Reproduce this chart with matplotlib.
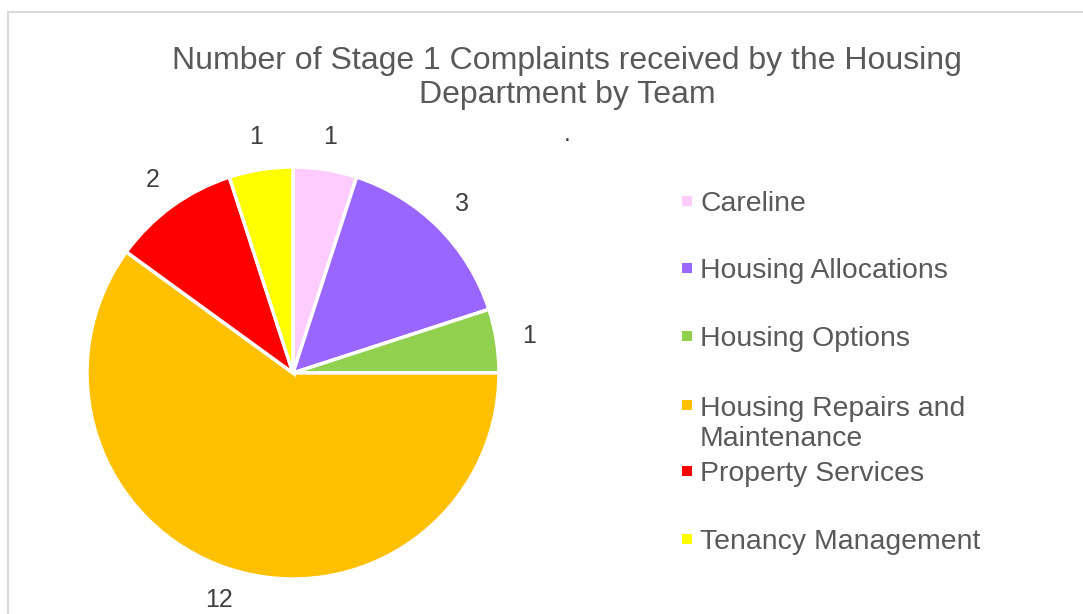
import matplotlib
matplotlib.use("Agg")
import matplotlib.pyplot as plt
from matplotlib.patches import Rectangle

plt.rcParams['font.family'] = ['Liberation Sans', 'DejaVu Sans']

categories = ["Careline", "Housing Allocations", "Housing Options",
              "Housing Repairs and\nMaintenance", "Property Services", "Tenancy Management"]
values = [1, 3, 1, 12, 2, 1]
colors = ["#FFCCFF", "#9966FF", "#92D050", "#FFC000", "#FF0000", "#FFFF00"]
title = "Number of Stage 1 Complaints received by the Housing\nDepartment by Team"

W, H = 1083, 614
fig = plt.figure(figsize=(W / 100, H / 100), dpi=100)
fig.patch.set_facecolor("white")

# chart border
fig.patches.append(Rectangle((8 / W, -0.05), 1.2, (H - 12) / H + 0.05, transform=fig.transFigure,
                             fill=False, edgecolor="#D9D9D9", linewidth=1.5))

cx, cy, r = 293, H - 373, 206
ax = fig.add_axes([(cx - r) / W, (cy - r) / H, 2 * r / W, 2 * r / H])
wedges, texts = ax.pie(values, colors=colors, startangle=90, counterclock=False,
                       labels=[str(v) for v in values], labeldistance=1.16,
                       wedgeprops=dict(edgecolor="white", linewidth=2.5),
                       textprops=dict(fontsize=18, color="#404040"))
for t in texts:
    t.set_ha("center")
    t.set_va("center")
    t.set_clip_on(False)
ax.set_xlim(-1, 1)
ax.set_ylim(-1, 1)
ax.set_aspect("auto")
ax.axis("off")

fig.text(567 / W, 1 - 78 / H, title, ha="center", va="center", fontsize=23,
         color="#595959", linespacing=1.17)
fig.text(567 / W, 1 - 134 / H, ".", ha="center", va="center", fontsize=18, color="#404040")

legend_y = [201, 268, 336, 405, 471, 539]
for lab, col, y in zip(categories, colors, legend_y):
    fig.patches.append(Rectangle((682 / W, 1 - (y + 5) / H), 10 / W, 10 / H,
                                 transform=fig.transFigure, facecolor=col, edgecolor="none"))
    extra = lab.count("\n") * 31
    fig.text(700 / W, 1 - (y + 10 + extra) / H, lab, ha="left", va="baseline", fontsize=20.4,
             color="#595959", linespacing=1.19)

fig.savefig("out.png", dpi=100)
